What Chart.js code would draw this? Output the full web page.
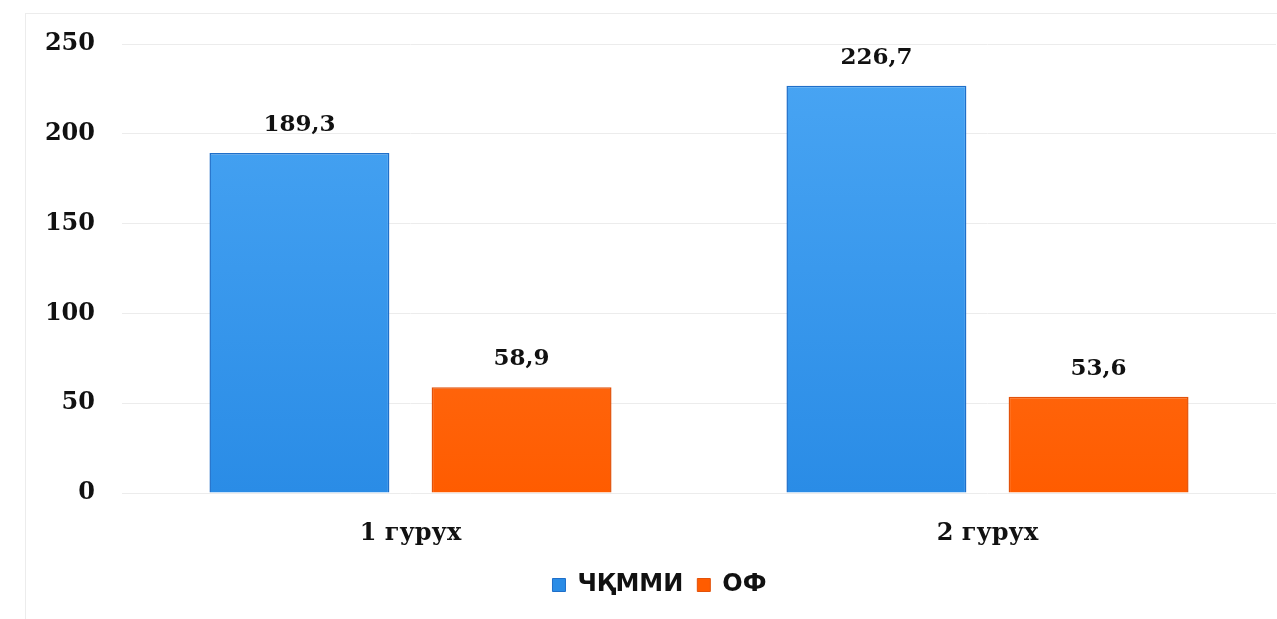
<!DOCTYPE html>
<html lang="uz">
<head>
  <meta charset="UTF-8">
  <title>ЧҚММИ ва ОФ</title>
  <script src="https://cdn.jsdelivr.net/npm/chart.js"></script>
  <style>
    html, body { margin: 0; padding: 0; background: #fff; }
    #wrap { position: relative; width: 1277px; height: 619px; overflow: hidden; }
    #frame {
      position: absolute; left: 25px; top: 13px; width: 1400px; height: 700px;
      border-left: 1px solid #ececec; border-top: 1px solid #ececec;
    }
    canvas { position: absolute; left: 0; top: 0; }
  </style>
</head>
<body>

<div id="wrap">
  <div id="frame"></div>
  <canvas id="grafico" width="1277" height="619"></canvas>
</div>

<script>
  const categorias = ["1 гурух", "2 гурух"];
  const serieNombres = ["ЧҚММИ", "ОФ"];
  const valoresChkmmi = [189.3, 226.7];
  const valoresOf = [58.9, 53.6];
  const ticksY = [0, 50, 100, 150, 200, 250];

  const azul = ["#4aa6f4", "#2a8ce6", "#1f6fc9"];
  const naranja = ["#ff7c2c", "#ff5c00", "#e2520a"];

  const degradado = (colores) => (ctx) => {
    const area = ctx.chart.chartArea;
    if (!area) return colores[1];
    const g = ctx.chart.ctx.createLinearGradient(0, area.top, 0, area.bottom);
    g.addColorStop(0, colores[0]);
    g.addColorStop(1, colores[1]);
    return g;
  };

  const fuenteSerif = "'DejaVu Serif', serif";

  // valores encima de cada barra
  const etiquetas = {
    id: "etiquetas",
    afterDatasetsDraw(chart) {
      const c = chart.ctx;
      c.save();
      c.font = "bold 23px " + fuenteSerif;
      c.fillStyle = "#111";
      c.textAlign = "center";
      c.textBaseline = "middle";
      chart.data.datasets.forEach((ds, i) => {
        chart.getDatasetMeta(i).data.forEach((bar, j) => {
          c.fillText(String(ds.data[j]).replace(".", ","), bar.x, bar.y - 28);
        });
      });
      c.restore();
    }
  };

  new Chart(document.getElementById("grafico"), {
    type: "bar",
    data: {
      labels: categorias,
      datasets: [
        {
          label: serieNombres[0],
          data: valoresChkmmi,
          backgroundColor: degradado(azul),
          borderColor: azul[2],
          borderWidth: 1.5,
          categoryPercentage: 0.77,
          barPercentage: 0.81
        },
        {
          label: serieNombres[1],
          data: valoresOf,
          backgroundColor: degradado(naranja),
          borderColor: naranja[2],
          borderWidth: 1.5,
          categoryPercentage: 0.77,
          barPercentage: 0.81
        }
      ]
    },
    options: {
      responsive: false,
      animation: false,
      layout: { padding: { left: 43, right: 1, top: 44, bottom: 12 } },
      scales: {
        x: {
          grid: { display: false },
          border: { display: false },
          ticks: { color: "#111", font: { family: fuenteSerif, weight: "bold", size: 24 }, padding: 18 },
          afterFit(scale) { scale.height = 66; }
        },
        y: {
          min: 0,
          max: 250,
          afterBuildTicks(scale) { scale.ticks = ticksY.map(v => ({ value: v })); },
          grid: { color: "#ececec", lineWidth: 1, drawTicks: false },
          border: { display: false },
          ticks: { color: "#111", font: { family: fuenteSerif, weight: "bold", size: 24 }, padding: 27 },
          afterFit(scale) { scale.width = 79; }
        }
      },
      plugins: {
        tooltip: { enabled: false },
        legend: {
          position: "bottom",
          labels: {
            color: "#111",
            font: { family: "'DejaVu Sans', sans-serif", weight: "bold", size: 24 },
            boxWidth: 13,
            boxHeight: 13,
            padding: 14,
            generateLabels(chart) {
              return chart.data.datasets.map((ds, i) => ({
                text: ds.label,
                fillStyle: [azul, naranja][i][1],
                strokeStyle: [azul, naranja][i][2],
                lineWidth: 1,
                fontColor: "#111",
                datasetIndex: i
              }));
            }
          }
        }
      }
    },
    plugins: [etiquetas]
  });
</script>

</body>
</html>
